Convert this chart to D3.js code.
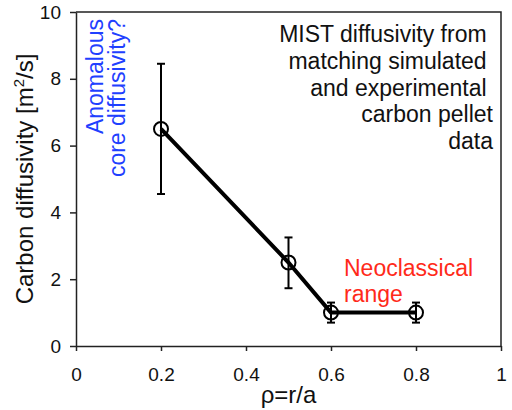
<!DOCTYPE html>
<html>
<head>
<meta charset="utf-8">
<script src="https://cdn.jsdelivr.net/npm/d3@7"></script>
<style>
  html, body { margin: 0; padding: 0; background: #fff; }
  svg { display: block; font-family: "Liberation Sans", Arial, sans-serif; }
</style>
</head>
<body>
<div id="chart"></div>
<script>
// data
var rho = [0.2, 0.5, 0.6, 0.8];
var diffusivity = [6.5, 2.5, 1.0, 1.0];
var errUp = [1.95, 0.75, 0.3, 0.3];
var errDown = [1.95, 0.77, 0.3, 0.3];

var xTicks = [0, 0.2, 0.4, 0.6, 0.8, 1];
var yTicks = [0, 2, 4, 6, 8, 10];

var noteLines = ['MIST diffusivity from ', 'matching simulated ', 'and experimental ', 'carbon pellet', 'data'];
var anomalousLines = ['Anomalous', 'core diffusivity?'];
var neoLines = ['Neoclassical', 'range'];

(function drawChart() {
  var W = 512, H = 410;
  var mLeft = 76, mRight = 501, mTop = 12, mBottom = 346;

  var svg = d3.select('#chart').append('svg')
    .attr('width', W).attr('height', H);

  var x = d3.scaleLinear().domain([0, 1]).range([mLeft, mRight]);
  var y = d3.scaleLinear().domain([0, 10]).range([mBottom, mTop]);

  var AXIS = '#222';

  /* frame: top and right */
  svg.append('path')
    .attr('d', 'M' + mLeft + ',' + mTop + 'H' + mRight + 'V' + mBottom)
    .attr('fill', 'none').attr('stroke', AXIS).attr('stroke-width', 1.5);

  /* axes */
  var xAxis = svg.append('g')
    .attr('transform', 'translate(0,' + mBottom + ')')
    .call(d3.axisBottom(x).tickValues(xTicks).tickSize(5).tickSizeOuter(0)
      .tickPadding(17).tickFormat(function (d) { return String(d); }));

  var yAxis = svg.append('g')
    .attr('transform', 'translate(' + mLeft + ',0)')
    .call(d3.axisLeft(y).tickValues(yTicks).tickSize(6).tickSizeOuter(0)
      .tickPadding(9).tickFormat(function (d) { return String(d); }));

  [xAxis, yAxis].forEach(function (g) {
    g.select('.domain').attr('stroke', AXIS).attr('stroke-width', 1.5);
    g.selectAll('.tick line').attr('stroke', AXIS).attr('stroke-width', 1.5);
    g.selectAll('.tick text')
      .attr('fill', '#111')
      .attr('font-size', 19)
      .attr('font-family', '"Liberation Sans", Arial, sans-serif');
  });

  /* axis titles */
  svg.append('text')
    .attr('x', (mLeft + mRight) / 2).attr('y', 403)
    .attr('text-anchor', 'middle')
    .attr('font-size', 24).attr('fill', '#111')
    .text('ρ=r/a');

  var yl = svg.append('text')
    .attr('transform', 'translate(33,' + ((mTop + mBottom) / 2) + ') rotate(-90)')
    .attr('text-anchor', 'middle')
    .attr('font-size', 24).attr('fill', '#111');
  yl.append('tspan').text('Carbon diffusivity [m');
  yl.append('tspan').attr('font-size', 15).attr('dy', -9).text('2');
  yl.append('tspan').attr('dy', 9).text('/s]');

  /* error bars */
  var pts = rho.map(function (r, i) {
    return { r: r, v: diffusivity[i], hi: diffusivity[i] + errUp[i], lo: diffusivity[i] - errDown[i] };
  });

  var eb = svg.append('g').attr('stroke', '#000').attr('stroke-width', 2).attr('fill', 'none');
  pts.forEach(function (p) {
    var cx = x(p.r);
    eb.append('line').attr('x1', cx).attr('x2', cx).attr('y1', y(p.hi)).attr('y2', y(p.lo));
    eb.append('line').attr('x1', cx - 4).attr('x2', cx + 4).attr('y1', y(p.hi)).attr('y2', y(p.hi));
    eb.append('line').attr('x1', cx - 4).attr('x2', cx + 4).attr('y1', y(p.lo)).attr('y2', y(p.lo));
  });

  /* line */
  svg.append('path')
    .datum(pts)
    .attr('fill', 'none').attr('stroke', '#000').attr('stroke-width', 4)
    .attr('stroke-linejoin', 'round')
    .attr('d', d3.line().x(function (d) { return x(d.r); }).y(function (d) { return y(d.v); }));

  /* markers */
  svg.append('g').selectAll('circle').data(pts).enter().append('circle')
    .attr('cx', function (d) { return x(d.r); })
    .attr('cy', function (d) { return y(d.v); })
    .attr('r', 7)
    .attr('fill', 'none').attr('stroke', '#000').attr('stroke-width', 2);

  /* annotations */
  svg.append('g').selectAll('text').data(noteLines).enter().append('text')
    .attr('x', 493)
    .attr('y', function (d, i) { return 42 + i * 26.8; })
    .attr('text-anchor', 'end')
    .attr('font-size', 23).attr('fill', '#111')
    .style('white-space', 'pre')
    .text(function (d) { return d; });

  svg.append('g').selectAll('text').data(anomalousLines).enter().append('text')
    .attr('transform', function (d, i) { return 'translate(' + (103 + i * 22) + ',19) rotate(-90)'; })
    .attr('text-anchor', 'end')
    .attr('font-size', 23).attr('fill', '#1f40ff')
    .text(function (d) { return d; });

  svg.append('g').selectAll('text').data(neoLines).enter().append('text')
    .attr('x', 344)
    .attr('y', function (d, i) { return 276 + i * 26; })
    .attr('font-size', 23).attr('fill', '#ff2a1a')
    .text(function (d) { return d; });
}());
</script>
</body>
</html>
